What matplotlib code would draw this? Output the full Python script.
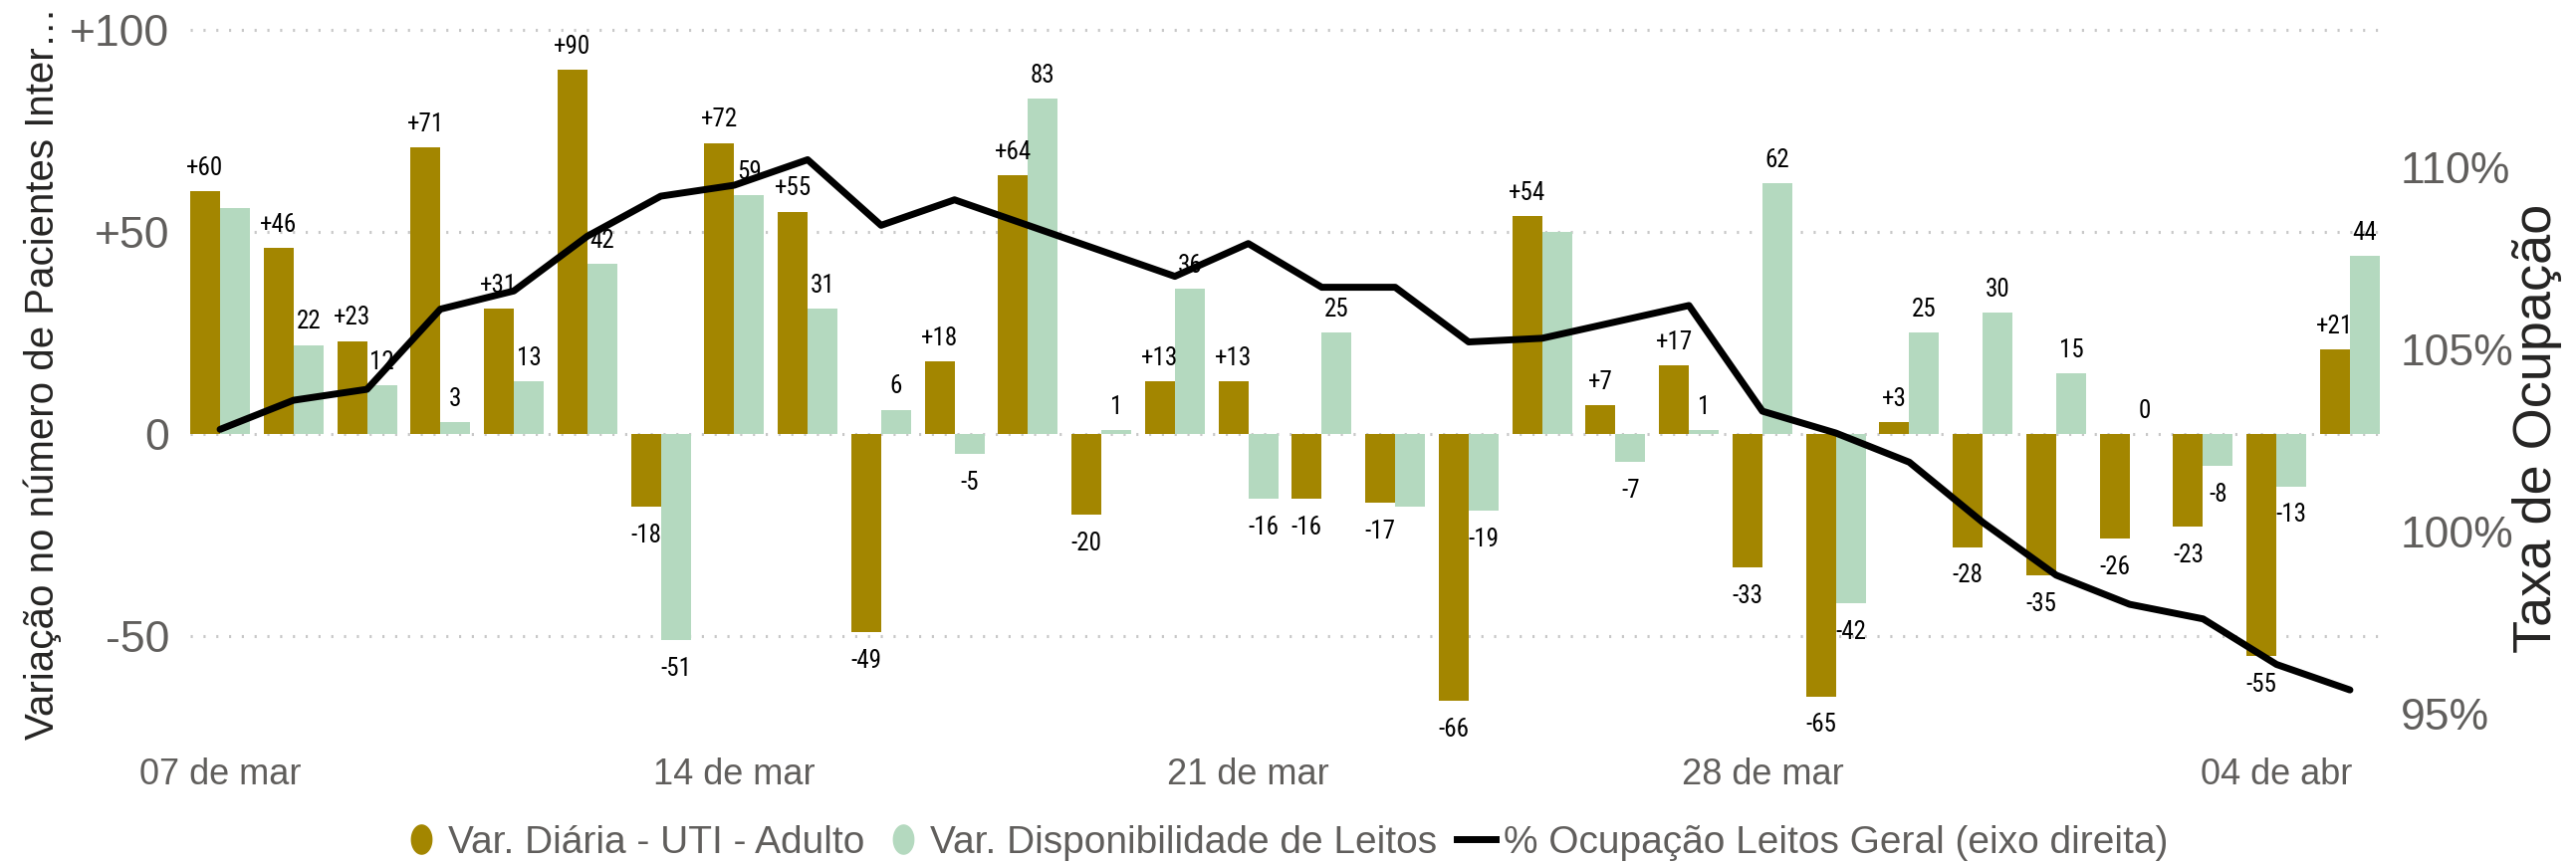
import numpy as np
import matplotlib.pyplot as plt
from matplotlib.lines import Line2D
from matplotlib.path import Path

plt.rcParams['font.family'] = ['Liberation Sans', 'DejaVu Sans']

# dias de 07/mar a 05/abr
dias = [f'{d:02d} de mar' for d in range(7, 32)] + [f'{d:02d} de abr' for d in range(1, 6)]

# variação diária UTI adulto
var_uti = [60, 46, 23, 71, 31, 90, -18, 72, 55, -49, 18, 64, -20, 13, 13,
           -16, -17, -66, 54, 7, 17, -33, -65, 3, -28, -35, -26, -23, -55, 21]

# variação na disponibilidade de leitos
var_leitos = [56, 22, 12, 3, 13, 42, -51, 59, 31, 6, -5, 83, 1, 36, -16,
              25, -18, -19, 50, -7, 1, 62, -42, 25, 30, 15, 0, -8, -13, 44]

# % ocupação leitos geral (eixo direito)
ocupacao = [102.8, 103.6, 103.9, 106.1, 106.6, 108.1, 109.2, 109.5, 110.2, 108.4,
            109.1, 108.4, 107.7, 107.0, 107.9, 106.7, 106.7, 105.2, 105.3, 105.75,
            106.2, 103.3, 102.7, 101.9, 100.25, 98.8, 98.0, 97.6, 96.35, 95.65]

# rótulos que o Power BI escondeu por sobreposição
leitos_sem_rotulo = [0, 16, 18]

ticks_x = [0, 7, 14, 21, 28]
ticks_esq = [-50, 0, 50, 100]
rotulos_esq = ['-50', '0', '+50', '+100']
ticks_dir = [95, 100, 105, 110]
rotulos_dir = ['95%', '100%', '105%', '110%']

marrom = '#a38600'
verde = '#b4d9bf'
cinza = '#605e5c'
fonte_rotulo = ['Roboto Condensed', 'DejaVu Sans']

W, H = 2587, 867
fig = plt.figure(figsize=(W / 100, H / 100), dpi=100)
ax = fig.add_axes([191 / W, 1 - 740 / H, (2390 - 191) / W, 715 / H])

x = np.arange(len(dias))
w = 0.407
ax.bar(x - w / 2, var_uti, w, color=marrom, zorder=2)
ax.bar(x + w / 2, var_leitos, w, color=verde, zorder=2)
ax.set_xlim(-w, len(dias) - 1 + w)
ax.set_ylim(-74.9, 101.2)

for yv in ticks_esq:
    ax.axhline(yv, color='#c8c8c8', lw=2.2, ls=(0, (0.7, 3.5)), zorder=1)

for i, v in enumerate(var_uti):
    txt = f'+{v}' if v > 0 else str(v)
    if v >= 0:
        ax.annotate(txt, (i - w / 2, v), xytext=(0, 8), textcoords='offset points',
                    ha='center', va='bottom', fontsize=18, family=fonte_rotulo)
    else:
        ax.annotate(txt, (i - w / 2, v), xytext=(0, -12), textcoords='offset points',
                    ha='center', va='top', fontsize=18, family=fonte_rotulo)

for i, v in enumerate(var_leitos):
    if i in leitos_sem_rotulo:
        continue
    if v >= 0:
        ax.annotate(str(v), (i + w / 2, v), xytext=(0, 8), textcoords='offset points',
                    ha='center', va='bottom', fontsize=18, family=fonte_rotulo)
    else:
        ax.annotate(str(v), (i + w / 2, v), xytext=(0, -12), textcoords='offset points',
                    ha='center', va='top', fontsize=18, family=fonte_rotulo)

ax.set_xticks(ticks_x)
ax.set_xticklabels([dias[i] for i in ticks_x])
ax.set_yticks(ticks_esq)
ax.set_yticklabels(rotulos_esq)
ax.tick_params(axis='x', length=0, pad=15, labelsize=26, labelcolor=cinza)
ax.tick_params(axis='y', length=0, pad=15, labelsize=32, labelcolor=cinza)
for s in ax.spines.values():
    s.set_visible(False)

ax2 = ax.twinx()
ax2.plot(x, ocupacao, color='black', lw=5, solid_capstyle='round', zorder=3)
ax2.set_ylim(94.37, 113.9)
ax2.set_yticks(ticks_dir)
ax2.set_yticklabels(rotulos_dir)
ax2.tick_params(axis='y', length=0, pad=15, labelsize=32, labelcolor=cinza)
for s in ax2.spines.values():
    s.set_visible(False)

fig.text(43 / W, 1 - 375 / H, 'Variação no número de Pacientes Inter…', rotation=90,
         ha='center', va='center', fontsize=29, color='#252423')
fig.text(2548 / W, 1 - 430 / H, 'Taxa de Ocupação', rotation=90,
         ha='center', va='center', fontsize=39, color='#252423')

# marcador elíptico como no original
t = np.linspace(0, 2 * np.pi, 60)
elipse = Path(np.column_stack([0.7 * np.cos(t), np.sin(t)]))
handles = [
    Line2D([], [], ls='none', marker=elipse, markersize=21, color=marrom),
    Line2D([], [], ls='none', marker=elipse, markersize=21, color=verde),
    Line2D([], [], color='black', lw=5),
]
labels = ['Var. Diária - UTI - Adulto', 'Var. Disponibilidade de Leitos',
          '% Ocupação Leitos Geral (eixo direita)']
leg = fig.legend(handles, labels, loc='center', bbox_to_anchor=(1290 / W, 1 - 847 / H),
                 ncol=3, frameon=False, fontsize=28, handlelength=1.0, handletextpad=0.2,
                 columnspacing=0.5, borderaxespad=0)
for t_ in leg.get_texts():
    t_.set_color(cinza)

fig.savefig('out.png', dpi=100)
